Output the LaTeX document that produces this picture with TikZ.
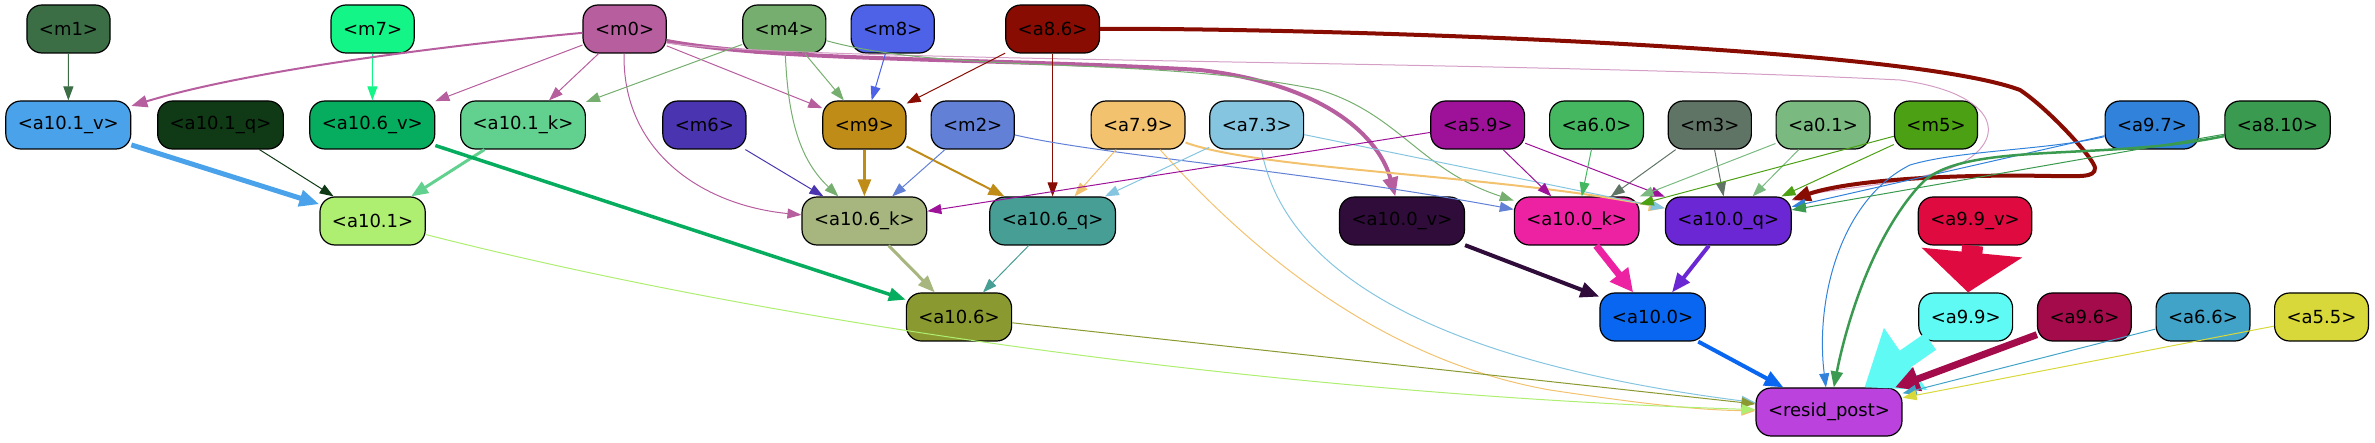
\documentclass[tikz,border=0pt]{standalone}
\usepackage{fontspec}
\setmainfont{DejaVu Sans}
\usetikzlibrary{arrows.meta}
\definecolor{cm1}{HTML}{3B6E45}
\definecolor{cm7}{HTML}{13F587}
\definecolor{cm0}{HTML}{B75E9F}
\definecolor{cm4}{HTML}{76AE6F}
\definecolor{cm8}{HTML}{4D62E6}
\definecolor{ca86}{HTML}{880C02}
\definecolor{ca101v}{HTML}{4AA3EA}
\definecolor{ca101q}{HTML}{0F3A15}
\definecolor{ca106v}{HTML}{06AD5E}
\definecolor{ca101k}{HTML}{62D18F}
\definecolor{cm6}{HTML}{4B34B0}
\definecolor{cm9}{HTML}{C08C18}
\definecolor{cm2}{HTML}{6180D6}
\definecolor{ca79}{HTML}{F3C26F}
\definecolor{ca73}{HTML}{86C5E0}
\definecolor{ca59}{HTML}{9E1299}
\definecolor{ca60}{HTML}{44B760}
\definecolor{cm3}{HTML}{607466}
\definecolor{ca01}{HTML}{7ABA80}
\definecolor{cm5}{HTML}{4CA013}
\definecolor{ca97}{HTML}{3182DB}
\definecolor{ca810}{HTML}{3A9A4F}
\definecolor{ca101}{HTML}{AEEE71}
\definecolor{ca106k}{HTML}{A6B67E}
\definecolor{ca106q}{HTML}{479E95}
\definecolor{ca100v}{HTML}{300C3B}
\definecolor{ca100k}{HTML}{EC22A2}
\definecolor{ca100q}{HTML}{6A27D3}
\definecolor{ca99v}{HTML}{DF0A3F}
\definecolor{ca106}{HTML}{8B9A30}
\definecolor{ca100}{HTML}{0966F0}
\definecolor{ca99}{HTML}{60FAF4}
\definecolor{ca96}{HTML}{A30B4A}
\definecolor{ca66}{HTML}{42A3C8}
\definecolor{ca55}{HTML}{D8D83A}
\definecolor{cres}{HTML}{BB42DC}
\tikzset{
  nd/.style={draw=black, line width=1.2pt, rounded corners=15pt, minimum height=48pt,
    inner xsep=12pt, inner ysep=0pt, font=\fontsize{18}{21}\selectfont, text=black, fill=#1},
  ar/.style={-{Triangle[length=14pt,width=10pt]}, line width=1pt, draw=#1},
  arm/.style={-{Triangle[length=16pt,width=12pt]}, line width=2pt, draw=#1},
  art/.style={-{Triangle[length=19pt,width=15pt]}, line width=4pt, draw=#1},
}
\begin{document}
\begin{tikzpicture}[x=1pt,y=-1pt]
\useasboundingbox (0,0) rectangle (2375,443);
% row 1
\node[nd=cm1] (m1) at (68.5,29) {<m1>};
\node[nd=cm7] (m7) at (372.6,29) {<m7>};
\node[nd=cm0] (m0) at (624.6,29) {<m0>};
\node[nd=cm4] (m4) at (784.3,29) {<m4>};
\node[nd=cm8] (m8) at (892.7,29) {<m8>};
\node[nd=ca86] (a86) at (1052.6,29) {<a8.6>};
% row 2
\node[nd=ca101v] (a101v) at (68.3,125) {<a10.1\_v>};
\node[nd=ca101q] (a101q) at (220.5,125) {<a10.1\_q>};
\node[nd=ca106v] (a106v) at (372.3,125) {<a10.6\_v>};
\node[nd=ca101k] (a101k) at (523,125) {<a10.1\_k>};
\node[nd=cm6] (m6) at (704.4,125) {<m6>};
\node[nd=cm9] (m9) at (864.4,125) {<m9>};
\node[nd=cm2] (m2) at (972.7,125) {<m2>};
\node[nd=ca79] (a79) at (1138,125) {<a7.9>};
\node[nd=ca73] (a73) at (1256.7,125) {<a7.3>};
\node[nd=ca59] (a59) at (1477.7,125) {<a5.9>};
\node[nd=ca60] (a60) at (1596.5,125) {<a6.0>};
\node[nd=cm3] (m3) at (1709.8,125) {<m3>};
\node[nd=ca01] (a01) at (1823,125) {<a0.1>};
\node[nd=cm5] (m5) at (1936,125) {<m5>};
\node[nd=ca97] (a97) at (2152,125) {<a9.7>};
\node[nd=ca810] (a810) at (2277.5,125) {<a8.10>};
% row 3
\node[nd=ca101] (a101) at (372.6,221) {<a10.1>};
\node[nd=ca106k] (a106k) at (864.4,221) {<a10.6\_k>};
\node[nd=ca106q] (a106q) at (1052.6,221) {<a10.6\_q>};
\node[nd=ca100v] (a100v) at (1402,221) {<a10.0\_v>};
\node[nd=ca100k] (a100k) at (1576.7,221) {<a10.0\_k>};
\node[nd=ca100q] (a100q) at (1728.3,221) {<a10.0\_q>};
\node[nd=ca99v] (a99v) at (1975,221) {<a9.9\_v>};
% row 4
\node[nd=ca106] (a106) at (959,317) {<a10.6>};
\node[nd=ca100] (a100) at (1652.6,317) {<a10.0>};
\node[nd=ca99] (a99) at (1965.7,317) {<a9.9>};
\node[nd=ca96] (a96) at (2084.4,317) {<a9.6>};
\node[nd=ca66] (a66) at (2203,317) {<a6.6>};
\node[nd=ca55] (a55) at (2321.5,317) {<a5.5>};
% row 5
\node[nd=cres] (res) at (1829,412) {<resid\_post>};

% edges
\draw[ar=cm1] (m1) -- (a101v);
\draw[ar=cm7] (m7) -- (a106v);
\draw[arm=cm0] (m0) .. controls (450,45) and (250,70) .. (a101v);
\draw[ar=cm0] (m0) -- (a106v);
\draw[ar=cm0] (m0) -- (a101k);
\draw[ar=cm0] (m0) -- (m9);
\draw[ar=cm0] (m0) .. controls (622,150) and (700,205) .. (a106k);
\draw[art=cm0] ([yshift=-12pt]m0.east) .. controls (780,62) and (1000,58) .. (1200,70) .. controls (1330,85) and (1380,140) .. (a100v);
\draw[ar=cm0!60] ([yshift=-14pt]m0.east) .. controls (800,62) and (1500,60) .. (1900,80) .. controls (2010,95) and (2010,150) .. (1940,172) .. controls (1880,188) and (1830,188) .. (a100q);
\draw[ar=cm4] (m4) -- (a101k);
\draw[ar=cm4] (m4) -- (m9);
\draw[ar=cm4] (m4) .. controls (788,120) and (800,160) .. (a106k);
\draw[ar=cm4] (m4) .. controls (950,75) and (1150,55) .. (1320,90) .. controls (1400,115) and (1420,170) .. (a100k);
\draw[ar=cm8] (m8) -- (m9);
\draw[ar=ca86] (a86) -- (m9);
\draw[ar=ca86] (a86) -- (a106q);
\draw[art=ca86] (a86) .. controls (1300,28) and (1900,45) .. (2020,90) .. controls (2050,110) and (2095,160) .. (2095,168) .. controls (2095,178) and (2080,176) .. (2050,176) .. controls (1950,174) and (1850,180) .. (a100q);
\draw[-{Triangle[length=20pt,width=16pt]}, line width=5pt, draw=ca101v] (a101v) -- (a101);
\draw[ar=ca101q] (a101q) -- (a101);
\draw[-{Triangle[length=17pt,width=13pt]}, line width=3pt, draw=ca101k] (a101k) -- (a101);
\draw[-{Triangle[length=17pt,width=13pt]}, line width=3.5pt, draw=ca106v] (a106v) -- (a106);
\draw[ar=cm6] (m6) -- (a106k);
\draw[-{Triangle[length=17pt,width=13pt]}, line width=3pt, draw=cm9] (m9) -- (a106k);
\draw[arm=cm9] (m9) -- (a106q);
\draw[ar=cm2] (m2) -- (a106k);
\draw[ar=cm2] (m2) .. controls (1100,155) and (1300,170) .. (a100k);
\draw[ar=ca79] (a79) -- (a106q);
\draw[arm=ca79] (a79) .. controls (1260,170) and (1500,175) .. (a100q);
\draw[ar=ca79] (a79) .. controls (1250,250) and (1380,360) .. (1550,390) .. controls (1650,405) and (1700,410) .. (res);
\draw[ar=ca73] (a73) -- (a106q);
\draw[ar=ca73] (a73) -- (a100q);
\draw[ar=ca73] (a73) .. controls (1290,300) and (1500,370) .. (res);
\draw[ar=ca59] (a59) -- (a106k);
\draw[ar=ca59] (a59) -- (a100k);
\draw[ar=ca59] (a59) -- (a100q);
\draw[ar=ca60] (a60) -- (a100k);
\draw[ar=cm3] (m3) -- (a100k);
\draw[ar=cm3] (m3) -- (a100q);
\draw[ar=ca01] (a01) -- (a100k);
\draw[ar=ca01] (a01) -- (a100q);
\draw[ar=cm5] (m5) -- (a100k);
\draw[ar=cm5] (m5) -- (a100q);
\draw[ar=ca97] (a97) .. controls (2050,150) and (1960,150) .. (1910,165) .. controls (1840,200) and (1815,300) .. (res);
\draw[ar=ca97] (a97) -- (a100q);
\draw[-{Triangle[length=16pt,width=12pt]}, line width=2.5pt, draw=ca810] (a810) .. controls (2100,162) and (1960,140) .. (1920,185) .. controls (1870,240) and (1845,330) .. (res);
\draw[ar=ca810] (a810) -- (a100q);
\draw[art=ca100v] (a100v) -- (a100);
\draw[-{Triangle[length=23pt,width=22pt]}, line width=7pt, draw=ca100k] (a100k) -- (a100);
\draw[art=ca100q] (a100q) -- (a100);
\draw[art=ca100] (a100) -- (res);
\draw[-{Triangle[length=40pt,width=99pt]}, line width=21pt, draw=ca99v] (a99v) -- (a99);
\draw[-{Triangle[length=50pt,width=72pt]}, line width=20pt, draw=ca99] (a99) -- (res);
\draw[-{Triangle[length=24pt,width=24pt]}, line width=7pt, draw=ca96] (a96) -- (res);
\draw[ar=ca66] (a66) -- (res);
\draw[ar=ca55] (a55) -- (res);
\draw[ar=ca106] (a106) -- (res);
\draw[ar=ca101] (a101) .. controls (800,330) and (1300,395) .. (res);
\draw[-{Triangle[length=17pt,width=13pt]}, line width=3pt, draw=ca106k] (a106k) -- (a106);
\draw[ar=ca106q] (a106q) -- (a106);
\end{tikzpicture}
\end{document}
